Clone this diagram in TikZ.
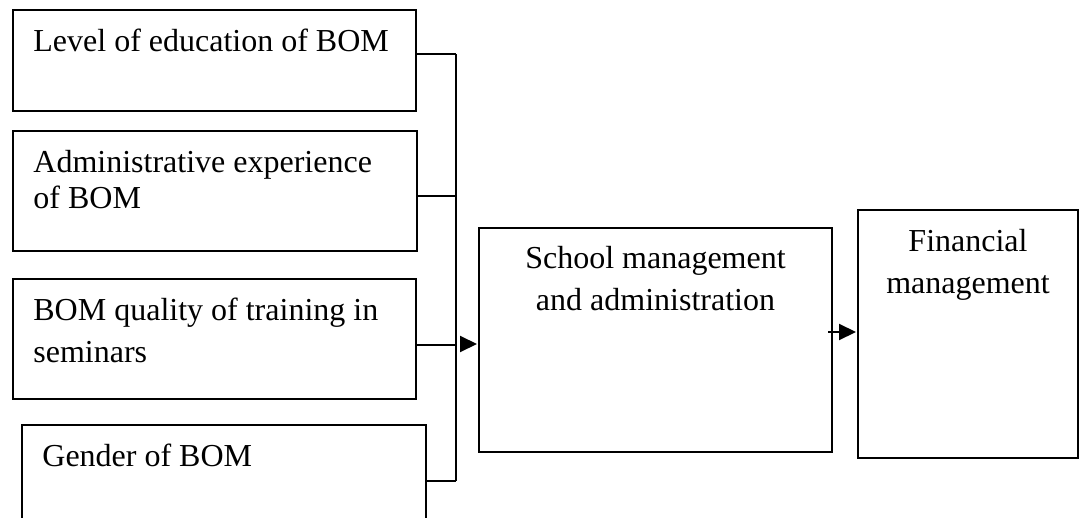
\documentclass[tikz,border=0pt]{standalone}
\usepackage{fontspec}
\setmainfont{Liberation Serif}
\usetikzlibrary{arrows.meta}

\begin{document}
\begin{tikzpicture}[x=0.5pt,y=-0.5pt,
  box/.style={draw,line width=1pt,inner sep=0pt,outer sep=0pt},
  lbl/.style={font=\fontsize{16}{21}\selectfont,inner sep=0pt,align=left},
  link/.style={line width=1.2pt},
  arr/.style={line width=1pt,shorten >=1pt,-{Triangle[length=8.5pt,width=8pt]}}]
\useasboundingbox (0,0) rectangle (1079,518);
\clip (0,0) rectangle (1079,518);

%factors
\node[box,minimum width=201.5pt,minimum height=50.5pt,label={[lbl,anchor=north west,xshift=10pt,yshift=-9.5pt]north west:Level of education of BOM}] (edu) at (214.5,60.5) {};
\node[box,minimum width=202pt,minimum height=60pt,label={[lbl,anchor=north west,xshift=10pt,yshift=-9.5pt,font=\fontsize{16}{18}\selectfont]north west:Administrative experience\\of BOM}] (exp) at (215,191) {};
\node[box,minimum width=201.5pt,minimum height=60pt,label={[lbl,anchor=north west,xshift=10pt,yshift=-9.5pt]north west:BOM quality of training in\\seminars}] (trn) at (214.5,339) {};
\node[box,minimum width=202pt,minimum height=60pt,label={[lbl,anchor=north west,xshift=10pt,yshift=-9.5pt]north west:Gender of BOM}] (gen) at (224,485) {};

%outcomes
\node[box,minimum width=176.5pt,minimum height=112pt,label={[lbl,align=center,anchor=north,yshift=-9pt]north:School management\\and administration}] (admin) at (655.5,340) {};
\node[box,minimum width=110pt,minimum height=124pt,label={[lbl,align=center,anchor=north,yshift=-9.5pt]north:Financial\\management}] (fin) at (968,334) {};

%bus
\coordinate (j1) at (456,54);
\coordinate (j2) at (456,196);
\coordinate (j3) at (456,345);
\coordinate (j4) at (456,481);
\draw[link] (j1) -- (j4);
\foreach \b/\j in {edu/j1,exp/j2,trn/j3,gen/j4}
  \draw[link] (\b.east |- \j) -- (\j);

%arrows
\coordinate (tail1) at (460,344);
\draw[arr] (tail1) -- (admin.west |- tail1);
\coordinate (tail2) at (828,332);
\draw[arr] (tail2) -- (fin.west |- tail2);
\end{tikzpicture}
\end{document}
